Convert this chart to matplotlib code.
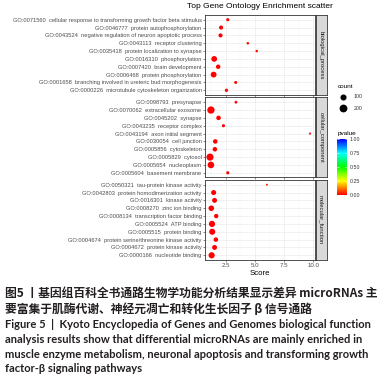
import numpy as np
import matplotlib
matplotlib.use("Agg")
import matplotlib.pyplot as plt
from matplotlib.colors import LinearSegmentedColormap, Normalize
from matplotlib.lines import Line2D

# ---- data (top to bottom within each facet) ----
bp_terms = ["GO:0071560  cellular response to transforming growth factor beta stimulus",
            "GO:0046777  protein autophosphorylation",
            "GO:0043524  negative regulation of neuron apoptotic process",
            "GO:0043113  receptor clustering",
            "GO:0035418  protein localization to synapse",
            "GO:0016310  phosphorylation",
            "GO:0007420  brain development",
            "GO:0006468  protein phosphorylation",
            "GO:0001658  branching involved in ureteric bud morphogenesis",
            "GO:0000226  microtubule cytoskeleton organization"]
bp_score = [2.67, 2.10, 2.05, 4.39, 5.15, 1.51, 1.85, 1.46, 3.35, 2.56]
bp_count = [40, 75, 75, 22, 20, 160, 90, 165, 35, 45]
bp_pval = [0.004, 0.002, 0.002, 0.01, 0.012, 0.001, 0.001, 0.001, 0.006, 0.004]

cc_terms = ["GO:0098793  presynapse",
            "GO:0070062  extracellular exosome",
            "GO:0045202  synapse",
            "GO:0043235  receptor complex",
            "GO:0043194  axon initial segment",
            "GO:0030054  cell junction",
            "GO:0005856  cytoskeleton",
            "GO:0005829  cytosol",
            "GO:0005654  nucleoplasm",
            "GO:0005604  basement membrane"]
cc_score = [3.37, 1.23, 1.88, 2.30, 9.71, 1.60, 1.57, 1.15, 1.23, 2.67]
cc_count = [30, 265, 95, 40, 12, 95, 95, 250, 215, 40]
cc_pval = [0.006, 0.001, 0.001, 0.003, 0.02, 0.001, 0.001, 0.001, 0.001, 0.004]

mf_terms = ["GO:0050321  tau-protein kinase activity",
            "GO:0042803  protein homodimerization activity",
            "GO:0016301  kinase activity",
            "GO:0008270  zinc ion binding",
            "GO:0008134  transcription factor binding",
            "GO:0005524  ATP binding",
            "GO:0005515  protein binding",
            "GO:0004674  protein serine/threonine kinase activity",
            "GO:0004672  protein kinase activity",
            "GO:0000166  nucleotide binding"]
mf_score = [6.02, 1.46, 1.54, 1.26, 1.68, 1.32, 1.34, 1.65, 1.54, 1.29]
mf_count = [8, 120, 115, 150, 85, 185, 180, 95, 115, 185]
mf_pval = [0.02, 0.001, 0.001, 0.001, 0.002, 0.001, 0.001, 0.002, 0.001, 0.001]

facets = ["biological_process", "cellular_component", "molecular_function"]
x_ticks = [2.5, 5.0, 7.5, 10.0]

caption_cn = ["图5 丨基因组百科全书通路生物学功能分析结果显示差异 microRNAs 主",
              "要富集于肌酶代谢、神经元凋亡和转化生长因子 β 信号通路"]
caption_en = ["Figure 5  |  Kyoto Encyclopedia of Genes and Genomes biological function",
              "analysis results show that differential microRNAs are mainly enriched in",
              "muscle enzyme metabolism, neuronal apoptosis and transforming growth",
              "factor-β signaling pathways"]

groups = [(bp_terms, bp_score, bp_count, bp_pval),
          (cc_terms, cc_score, cc_count, cc_pval),
          (mf_terms, mf_score, mf_count, mf_pval)]

cmap = LinearSegmentedColormap.from_list(
    "pv", [(0, "#FF0000"), (0.25, "#FFFF00"), (0.5, "#00FF00"),
           (0.75, "#00FFFF"), (1, "#0000FF")])
norm = Normalize(0, 1)

def size(c):
    return 1.2 + np.asarray(c) * 0.1

W, H = 385, 384
fig = plt.figure(figsize=(W / 100, H / 100), dpi=100)

def box(x0, y0, x1, y1):
    return [x0 / W, 1 - y1 / H, (x1 - x0) / W, (y1 - y0) / H]

all_scores = bp_score + cc_score + mf_score
lo, hi = min(all_scores), max(all_scores)
pad = (hi - lo) * 0.05

tops = [15, 97.5, 180]
ph = 80
for i, (terms, score, count, pval) in enumerate(groups):
    ax = fig.add_axes(box(205, tops[i], 315, tops[i] + ph))
    n = len(terms)
    ypos = np.arange(n)[::-1]
    ax.set_xlim(lo - pad, hi + pad)
    ax.set_ylim(-0.6, n - 1 + 0.6)
    for v in x_ticks:
        ax.axvline(v, color="#EBEBEB", lw=0.5, zorder=0)
    for v in [1.25, 3.75, 6.25, 8.75]:
        ax.axvline(v, color="#F5F5F5", lw=0.3, zorder=0)
    for y in ypos:
        ax.axhline(y, color="#EBEBEB", lw=0.5, zorder=0)
    ax.scatter(score, ypos, s=size(count), c=pval, cmap=cmap, norm=norm,
               linewidths=0, zorder=3)
    ax.set_yticks(ypos)
    ax.set_yticklabels(terms, fontsize=4.15, color="#4D4D4D", family="Liberation Sans")
    ax.set_xticks(x_ticks)
    if i < 2:
        ax.set_xticklabels([])
        ax.tick_params(axis="x", length=0)
    else:
        ax.set_xticklabels(["2.5", "5.0", "7.5", "10.0"], fontsize=4.4,
                           color="#4D4D4D", family="Liberation Sans")
        ax.set_xlabel("Score", fontsize=5.6, family="Liberation Sans", labelpad=1)
    ax.tick_params(axis="both", length=1.5, width=0.4, color="#333333", pad=1)
    for sp in ax.spines.values():
        sp.set_color("#333333")
        sp.set_linewidth(0.6)
    # facet strip
    sx = fig.add_axes(box(315.5, tops[i], 327, tops[i] + ph))
    sx.set_facecolor("#D9D9D9")
    sx.set_xticks([])
    sx.set_yticks([])
    for sp in sx.spines.values():
        sp.set_color("#333333")
        sp.set_linewidth(0.6)
    sx.text(0.5, 0.5, facets[i], rotation=270, ha="center", va="center",
            fontsize=4.2, color="#1A1A1A", family="Liberation Sans",
            transform=sx.transAxes)

fig.text(260 / W, 1 - 7 / H, "Top Gene Ontology Enrichment scatter", ha="center",
         va="center", fontsize=6.0, family="Liberation Sans")

# size legend
fig.text(338 / W, 1 - 86 / H, "count", fontsize=4.6, va="center", family="Liberation Sans")
for c, yy in [(100, 97), (200, 108)]:
    fig.add_artist(Line2D([343 / W], [1 - yy / H], marker="o", color="black",
                          markersize=np.sqrt(size(c)), linestyle="none"))
    fig.text(354 / W, 1 - yy / H, str(c), fontsize=3.8, va="center",
             color="#333333", family="Liberation Sans")

# colour bar
fig.text(338 / W, 1 - 133 / H, "pvalue", fontsize=4.6, va="center", family="Liberation Sans")
cax = fig.add_axes(box(337, 139, 347, 195))
grad = np.linspace(0, 1, 200).reshape(-1, 1)
cax.imshow(grad, aspect="auto", cmap=cmap, origin="lower", extent=[0, 1, 0, 1])
cax.set_xticks([])
cax.yaxis.tick_right()
cax.set_yticks([0, 0.25, 0.5, 0.75, 1.0])
cax.set_yticklabels(["0.00", "0.25", "0.50", "0.75", "1.00"], fontsize=3.8,
                    color="#333333", family="Liberation Sans")
cax.tick_params(axis="y", length=0, pad=2)
for v in [0, 0.25, 0.5, 0.75, 1.0]:
    cax.plot([0, 0.2], [v, v], color="white", lw=0.4)
    cax.plot([0.8, 1], [v, v], color="white", lw=0.4)
cax.set_xlim(0, 1)
cax.set_ylim(0, 1)
for sp in cax.spines.values():
    sp.set_visible(False)

# caption
for k, line in enumerate(caption_cn):
    fig.text(5 / W, 1 - (293 + 16.5 * k) / H, line, fontsize=8.5, va="center",
             family=["Noto Sans CJK SC", "DejaVu Sans"], weight="bold", color="#231F20")
for k, line in enumerate(caption_en):
    fig.text(5 / W, 1 - (325 + 14.5 * k) / H, line, fontsize=8.0, va="center",
             family="Lato", weight="bold", color="#231F20")

fig.savefig("out.png", dpi=100)
